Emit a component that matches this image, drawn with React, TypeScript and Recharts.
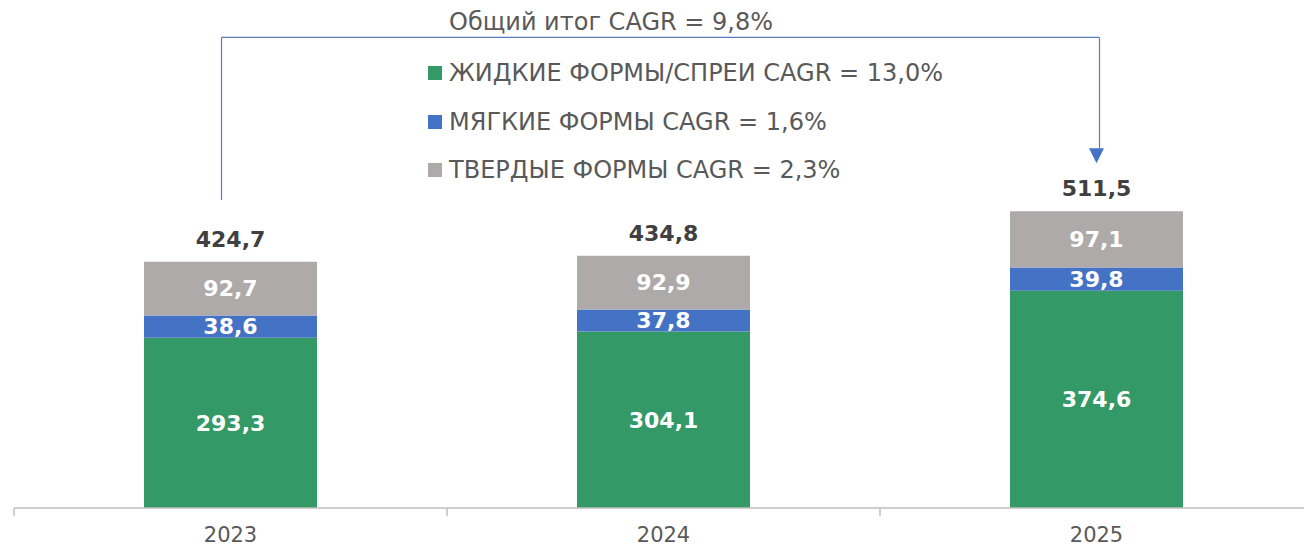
import { BarChart, Bar, XAxis, YAxis, LabelList, ReferenceLine, ReferenceDot } from "recharts";

const years = ["2023", "2024", "2025"];
const liquid = [293.3, 304.1, 374.6];
const soft = [38.6, 37.8, 39.8];
const solid = [92.7, 92.9, 97.1];
const totals = [424.7, 434.8, 511.5];

const seriesNames = [
  "ЖИДКИЕ ФОРМЫ/СПРЕИ CAGR = 13,0%",
  "МЯГКИЕ ФОРМЫ CAGR = 1,6%",
  "ТВЕРДЫЕ ФОРМЫ CAGR = 2,3%",
];
const totalTitle = "Общий итог CAGR = 9,8%";

// bracket levels (value units)
const bracketTop = 811;
const bracketLeftBottom = 531;
const arrowTip = 594;
const arrowBase = 620;

const GREEN = "#339966";
const BLUE = "#4472C4";
const GRAY = "#AEAAAA";
const LINE = "#5B7BBD";
const FONT = "'DejaVu Sans', Verdana, sans-serif";

const data = years.map((y, i) => ({
  year: y,
  liquid: liquid[i],
  soft: soft[i],
  solid: solid[i],
  total: totals[i],
}));

const fmt = (v: any) => Number(v).toFixed(1).replace(".", ",");

function YearTick(props: any) {
  const { x, y, payload, width, visibleTicksCount } = props;
  const n = visibleTicksCount || years.length;
  const band = width / n;
  const isLast = payload.index === n - 1;
  return (
    <g>
      <line x1={x - band / 2} y1={y - 8} x2={x - band / 2} y2={y} stroke="#BFBFBF" strokeWidth={1.5} />
      {isLast && (
        <line x1={x + band / 2} y1={y - 8} x2={x + band / 2} y2={y} stroke="#BFBFBF" strokeWidth={1.5} />
      )}
      <text x={x} y={y + 26} textAnchor="middle" fill="#595959" fontSize={21} fontFamily={FONT}>
        {payload.value}
      </text>
    </g>
  );
}

function LegendBox() {
  const colors = [GREEN, BLUE, GRAY];
  return (
    <div style={{ position: "absolute", left: 428, top: 49, fontFamily: FONT, zIndex: 2 }}>
      {seriesNames.map((n, i) => (
        <div key={n} style={{ display: "flex", alignItems: "center", height: 48.5 }}>
          <span style={{ width: 14, height: 14, background: colors[i], marginRight: 7 }} />
          <span style={{ fontSize: 24, color: "#595959", whiteSpace: "nowrap" }}>{n}</span>
        </div>
      ))}
    </div>
  );
}

const arrowShape = (p: any) => (
  <path
    d={`M${p.cx - 7.5},${p.cy - 15} L${p.cx + 7.5},${p.cy - 15} L${p.cx},${p.cy} Z`}
    fill={BLUE}
  />
);

const leftShape = (p: any) => (
  <line x1={p.x1 - 9} y1={p.y1} x2={p.x2 - 9} y2={p.y2} stroke={LINE} strokeWidth={1.2} />
);

const topShape = (p: any) => (
  <line x1={p.x1 - 9} y1={p.y1} x2={p.x2 + 3} y2={p.y2} stroke={LINE} strokeWidth={1.2} />
);

const rightShape = (p: any) => (
  <line x1={p.x1 + 3} y1={p.y1} x2={p.x2 + 3} y2={p.y2} stroke={LINE} strokeWidth={1.2} />
);

export default function App() {
  return (
    <div style={{ position: "fixed", left: 0, top: 0, width: 1304, height: 547, overflow: "hidden", background: "#fff" }}>
      <div
        style={{
          position: "absolute",
          left: 449,
          top: 8,
          fontFamily: FONT,
          fontSize: 24,
          color: "#595959",
          whiteSpace: "nowrap",
          zIndex: 2,
        }}
      >
        {totalTitle}
      </div>
      <LegendBox />
      <BarChart
        width={1313}
        height={547}
        data={data}
        margin={{ top: 9, right: 0, left: 14, bottom: 0 }}
        barSize={173}
      >
        <XAxis
          dataKey="year"
          height={39}
          axisLine={{ stroke: "#BFBFBF", strokeWidth: 1.5 }}
          tickLine={false}
          tick={<YearTick />}
          interval={0}
        />
        <YAxis hide domain={[0, 860]} />
        <Bar dataKey="liquid" stackId="a" fill={GREEN} isAnimationActive={false}>
          <LabelList dataKey="liquid" position="center" fill="#fff" fontSize={22} fontWeight="bold" fontFamily={FONT} formatter={fmt} />
        </Bar>
        <Bar dataKey="soft" stackId="a" fill={BLUE} isAnimationActive={false}>
          <LabelList dataKey="soft" position="center" fill="#fff" fontSize={22} fontWeight="bold" fontFamily={FONT} formatter={fmt} />
        </Bar>
        <Bar dataKey="solid" stackId="a" fill={GRAY} isAnimationActive={false}>
          <LabelList dataKey="solid" position="center" fill="#fff" fontSize={22} fontWeight="bold" fontFamily={FONT} formatter={fmt} />
          <LabelList dataKey="total" position="top" offset={15} fill="#404040" fontSize={22} fontWeight="bold" fontFamily={FONT} formatter={fmt} />
        </Bar>
        <ReferenceLine
          segment={[{ x: "2023", y: bracketLeftBottom }, { x: "2023", y: bracketTop }]}
          shape={leftShape}
          ifOverflow="visible"
        />
        <ReferenceLine
          segment={[{ x: "2023", y: bracketTop }, { x: "2025", y: bracketTop }]}
          shape={topShape}
          ifOverflow="visible"
        />
        <ReferenceLine
          segment={[{ x: "2025", y: bracketTop }, { x: "2025", y: arrowBase }]}
          shape={rightShape}
          ifOverflow="visible"
        />
        <ReferenceDot x="2025" y={arrowTip} shape={arrowShape} ifOverflow="visible" />
      </BarChart>
    </div>
  );
}
